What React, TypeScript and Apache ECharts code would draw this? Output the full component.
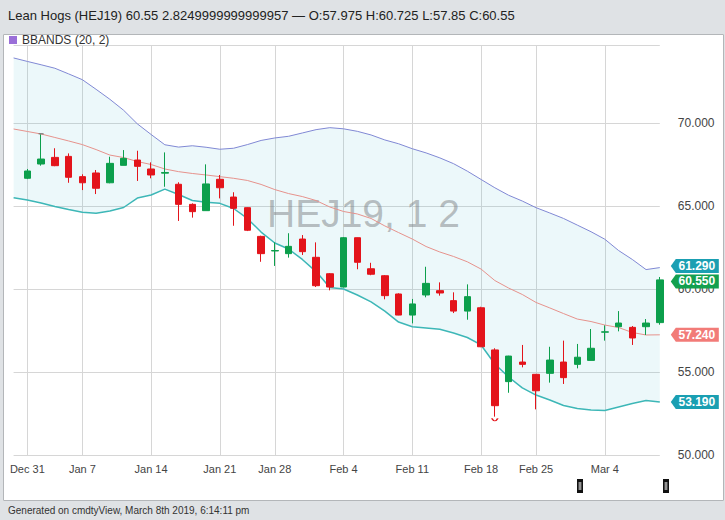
import React, { useEffect, useRef } from "react";
import * as echarts from "echarts";

const dates = ["Dec 28","Dec 31","Jan 2","Jan 3","Jan 4","Jan 7","Jan 8","Jan 9","Jan 10","Jan 11","Jan 14","Jan 15","Jan 16","Jan 17","Jan 18","Jan 22","Jan 23","Jan 24","Jan 25","Jan 28","Jan 29","Jan 30","Jan 31","Feb 1","Feb 4","Feb 5","Feb 6","Feb 7","Feb 8","Feb 11","Feb 12","Feb 13","Feb 14","Feb 15","Feb 19","Feb 20","Feb 21","Feb 22","Feb 25","Feb 26","Feb 27","Feb 28","Mar 1","Mar 4","Mar 5","Mar 6","Mar 7","Mar 8"];

const opens = [null, 66.67, 67.53, 67.93, 67.99, 66.77, 66.99, 66.40, 67.45, 67.77, 67.23, 66.98, 66.31, 65.10, 64.72, 66.61, 65.54, 64.90, 63.17, 62.29, 62.13, 63.01, 61.91, 60.92, 60.12, 63.09, 61.22, 60.80, 59.70, 58.43, 59.64, 59.90, 59.30, 58.67, 58.87, 56.33, 54.42, 55.60, 54.86, 54.92, 55.60, 55.46, 55.70, 57.40, 57.73, 57.69, 57.73, 57.975];
const closes = [null, 67.11, 67.83, 67.43, 66.73, 66.40, 66.07, 67.57, 67.87, 67.39, 66.87, 67.02, 65.10, 64.66, 66.33, 66.10, 64.86, 63.54, 62.13, 62.32, 62.57, 62.25, 60.20, 60.12, 63.09, 61.61, 60.89, 59.60, 58.43, 59.10, 60.34, 59.76, 58.67, 59.54, 56.52, 52.97, 55.96, 55.46, 53.87, 55.72, 54.66, 55.89, 56.43, 57.42, 57.95, 57.05, 57.95, 60.55];
const lows = [null, 66.62, 67.43, 67.40, 66.40, 65.96, 65.72, 66.37, 67.45, 66.51, 66.67, 66.16, 64.10, 64.30, 64.72, 65.46, 63.81, 63.49, 61.64, 61.39, 61.89, 62.05, 60.12, 59.92, 60.10, 61.19, 60.83, 59.38, 58.42, 57.93, 59.50, 59.60, 58.55, 58.15, 56.50, 52.31, 53.75, 55.28, 52.75, 54.36, 54.28, 55.22, 55.70, 56.89, 57.45, 56.63, 57.23, 57.85];
const highs = [null, 67.23, 69.32, 68.48, 68.17, 66.91, 67.17, 67.97, 68.37, 68.33, 67.63, 68.23, 66.43, 65.16, 67.51, 66.87, 65.83, 64.92, 63.21, 62.81, 63.36, 63.25, 62.81, 60.96, 63.13, 63.10, 61.58, 60.84, 59.74, 59.40, 61.34, 60.40, 59.80, 60.28, 58.93, 56.43, 55.98, 56.63, 54.88, 56.52, 56.89, 56.69, 57.59, 57.81, 58.67, 57.77, 58.19, 60.725];

const upperBand = [73.92, 73.71, 73.51, 73.30, 72.96, 72.61, 72.03, 71.43, 70.77, 69.95, 69.31, 68.69, 68.55, 68.63, 68.54, 68.42, 68.48, 68.70, 68.95, 69.10, 69.20, 69.40, 69.60, 69.72, 69.65, 69.50, 69.28, 68.98, 68.75, 68.45, 68.20, 67.90, 67.55, 67.10, 66.60, 66.10, 65.65, 65.30, 64.90, 64.58, 64.25, 63.85, 63.45, 63.00, 62.32, 61.78, 61.17, 61.29];
const middleBand = [69.64, 69.49, 69.34, 69.13, 68.92, 68.70, 68.40, 68.07, 67.92, 67.68, 67.50, 67.23, 67.07, 66.96, 66.87, 66.77, 66.67, 66.54, 66.30, 65.99, 65.75, 65.57, 65.33, 64.94, 64.67, 64.52, 64.25, 63.80, 63.40, 63.01, 62.56, 62.23, 61.96, 61.64, 61.20, 60.51, 60.06, 59.67, 59.19, 58.86, 58.52, 58.19, 58.04, 57.83, 57.68, 57.38, 57.23, 57.24];
const lowerBand = [65.50, 65.36, 65.18, 64.97, 64.79, 64.62, 64.56, 64.70, 64.91, 65.48, 65.66, 66.02, 65.69, 65.33, 65.22, 65.16, 64.85, 64.25, 63.43, 62.77, 62.41, 61.78, 61.05, 60.09, 60.00, 59.64, 59.22, 58.67, 58.01, 57.73, 57.65, 57.57, 57.35, 57.08, 56.63, 55.48, 54.70, 54.04, 53.61, 53.31, 52.98, 52.80, 52.71, 52.68, 52.89, 53.10, 53.28, 53.19];

const weekTickDays = ["Dec 31","Jan 7","Jan 14","Jan 22","Jan 28","Feb 4","Feb 11","Feb 19","Feb 25","Mar 4"];
const weekTickLabels = ["Dec 31","Jan 7","Jan 14","Jan 21","Jan 28","Feb 4","Feb 11","Feb 18","Feb 25","Mar 4"];

const yMin = 50;
const yMax = 74.7;
const yStep = 5;

const headerText = "Lean Hogs (HEJ19) 60.55 2.8249999999999957 \u2014 O:57.975 H:60.725 L:57.85 C:60.55";
const footerText = "Generated on cmdtyView, March 8th 2019, 6:14:11 pm";
const watermarkText = "HEJ19, 1 2";
const legendName = "BBANDS (20, 2)";

const FONT = "'Liberation Sans', Arial, Helvetica, sans-serif";
const UP = "#0c9f4c";
const DOWN = "#e3141b";
const BG = "#dfe2e5";

export default function App() {
  const ref = useRef<HTMLDivElement>(null);

  useEffect(() => {
    if (!ref.current) return;
    const chart = echarts.init(ref.current, null, { renderer: "svg" });
    const last = dates.length - 1;

    const candleData = dates.map((_, i) =>
      opens[i] == null ? "-" : [opens[i], closes[i], lows[i], highs[i]]
    );
    const bandDiff = upperBand.map((u, i) => +(u - lowerBand[i]).toFixed(3));

    let iMax = 1, iMin = 1;
    highs.forEach((h, i) => { if (h != null && h > (highs[iMax] as number)) iMax = i; });
    lows.forEach((l, i) => { if (l != null && l < (lows[iMin] as number)) iMin = i; });

    const tagSymbol = "path://M0,7L5,0L48,0L48,14L5,14Z";
    const tagPoint = (value: number, color: string, dy = 0) => ({
      coord: [dates[last], value],
      value,
      symbol: tagSymbol,
      symbolSize: [48, 14],
      symbolOffset: [35, dy],
      itemStyle: { color },
      label: {
        show: true,
        position: "inside",
        offset: [2, 0],
        color: "#fff",
        fontSize: 12,
        lineHeight: 12,
        fontWeight: "bold",
        fontFamily: FONT,
        formatter: (p: any) => Number(p.value).toFixed(3),
      },
    });

    const option: any = {
      animation: false,
      backgroundColor: "#ffffff",
      textStyle: { fontFamily: FONT },
      legend: {
        left: 9,
        top: 34,
        padding: 0,
        itemWidth: 8,
        itemHeight: 8,
        itemGap: 5,
        selectedMode: false,
        textStyle: { color: "#333", fontSize: 12, fontFamily: FONT },
        data: [{ name: legendName, icon: "rect", itemStyle: { color: "#9a6fd8" } }],
      },
      grid: { left: 13.6, right: 65.2, top: 45, bottom: 65, containLabel: false },
      xAxis: {
        type: "category",
        data: dates,
        boundaryGap: false,
        axisLine: { show: false },
        axisTick: { show: false },
        axisLabel: {
          interval: (_i: number, v: string) => weekTickDays.includes(v),
          formatter: (v: string) => {
            const k = weekTickDays.indexOf(v);
            return k >= 0 ? weekTickLabels[k] : "";
          },
          color: "#444",
          fontSize: 11,
          margin: 8,
          fontFamily: FONT,
        },
        splitLine: {
          show: true,
          interval: (_i: number, v: string) => weekTickDays.includes(v),
          lineStyle: { color: "#d6d6d6", width: 1 },
        },
      },
      yAxis: {
        type: "value",
        position: "right",
        min: yMin,
        max: yMax,
        interval: yStep,
        axisLine: { show: false },
        axisTick: { show: false },
        axisLabel: {
          showMaxLabel: false,
          margin: 18,
          color: "#444",
          fontSize: 12,
          fontFamily: FONT,
          formatter: (v: number) => v.toFixed(3),
        },
        splitLine: { show: true, lineStyle: { color: "#d6d6d6", width: 1 } },
      },
      graphic: [
        { type: "rect", shape: { x: 0, y: 0, width: 725, height: 34 }, style: { fill: BG }, silent: true },
        { type: "rect", shape: { x: 0, y: 501, width: 725, height: 19 }, style: { fill: BG }, silent: true },
        { type: "rect", shape: { x: 0, y: 34, width: 3, height: 467 }, style: { fill: BG }, silent: true },
        { type: "rect", shape: { x: 724, y: 34, width: 1, height: 467 }, style: { fill: BG }, silent: true },
        { type: "rect", shape: { x: 3.5, y: 34.5, width: 720, height: 466 }, style: { fill: "none", stroke: "#b3b6b9", lineWidth: 1 }, silent: true },
        { type: "text", x: 8, y: 15, style: { text: headerText, fill: "#222", fontSize: 13, fontFamily: FONT, verticalAlign: "middle" } },
        { type: "text", x: 8, y: 510, style: { text: footerText, fill: "#333", fontSize: 10, fontFamily: FONT, verticalAlign: "middle" } },
        { type: "text", x: 267, y: 213, z: 1.5, silent: true, style: { text: watermarkText, fill: "rgba(120,124,128,0.48)", fontSize: 39, fontFamily: FONT, verticalAlign: "middle" } },
        { type: "rect", shape: { x: 577, y: 479, width: 6, height: 14 }, style: { fill: "#111" } },
        { type: "line", shape: { x1: 579.2, y1: 482, x2: 579.2, y2: 490 }, style: { stroke: "#fff", lineWidth: 0.8 } },
        { type: "line", shape: { x1: 580.8, y1: 482, x2: 580.8, y2: 490 }, style: { stroke: "#fff", lineWidth: 0.8 } },
        { type: "rect", shape: { x: 663, y: 479, width: 6, height: 14 }, style: { fill: "#111" } },
        { type: "line", shape: { x1: 665.2, y1: 482, x2: 665.2, y2: 490 }, style: { stroke: "#fff", lineWidth: 0.8 } },
        { type: "line", shape: { x1: 666.8, y1: 482, x2: 666.8, y2: 490 }, style: { stroke: "#fff", lineWidth: 0.8 } },
      ],
      series: [
        {
          name: "bandBase",
          type: "line",
          data: lowerBand,
          stack: "band",
          symbol: "none",
          lineStyle: { opacity: 0 },
          z: 1,
          silent: true,
        },
        {
          name: "bandFill",
          type: "line",
          data: bandDiff,
          stack: "band",
          symbol: "none",
          lineStyle: { opacity: 0 },
          areaStyle: { color: "rgba(80,190,210,0.15)" },
          z: 1,
          silent: true,
        },
        {
          name: "middle",
          type: "line",
          data: middleBand,
          symbol: "none",
          lineStyle: { color: "#e6928c", width: 1 },
          z: 2,
          markPoint: { data: [tagPoint(middleBand[last], "#f27b78")] },
        },
        {
          name: "lower",
          type: "line",
          data: lowerBand,
          symbol: "none",
          lineStyle: { color: "#3db7b7", width: 1.5 },
          z: 2,
          markPoint: { data: [tagPoint(lowerBand[last], "#1a9fb2")] },
        },
        {
          name: legendName,
          type: "line",
          data: upperBand,
          symbol: "none",
          lineStyle: { color: "#8088d4", width: 1 },
          itemStyle: { color: "#9a6fd8" },
          z: 2,
          markPoint: { data: [tagPoint(upperBand[last], "#1a9fb2", -1.5)] },
        },
        {
          name: "HEJ19",
          type: "candlestick",
          data: candleData,
          barWidth: 7,
          clip: false,
          z: 3,
          itemStyle: {
            color: UP,
            color0: DOWN,
            borderColor: UP,
            borderColor0: DOWN,
            borderWidth: 1,
          },
          markPoint: {
            data: [
              {
                coord: [dates[iMax], highs[iMax]],
                value: highs[iMax],
                symbol: "rect",
                symbolSize: [5, 1.2],
                symbolOffset: [0, -0.5],
                itemStyle: { color: "#777" },
                label: { show: false },
              },
              {
                coord: [dates[iMin], lows[iMin]],
                value: lows[iMin],
                symbol: "path://M0,0Q4,4 8,0",
                symbolSize: [6, 2.5],
                symbolOffset: [0, 3],
                itemStyle: { color: "none", borderColor: DOWN, borderWidth: 1.2 },
                label: { show: false },
              },
              tagPoint(closes[last] as number, "#13a04f", 1.5),
            ],
          },
        },
      ],
    };

    chart.setOption(option);
    return () => chart.dispose();
  }, []);

  return (
    <div
      ref={ref}
      style={{ position: "fixed", left: 0, top: 0, width: 725, height: 520 }}
    />
  );
}
